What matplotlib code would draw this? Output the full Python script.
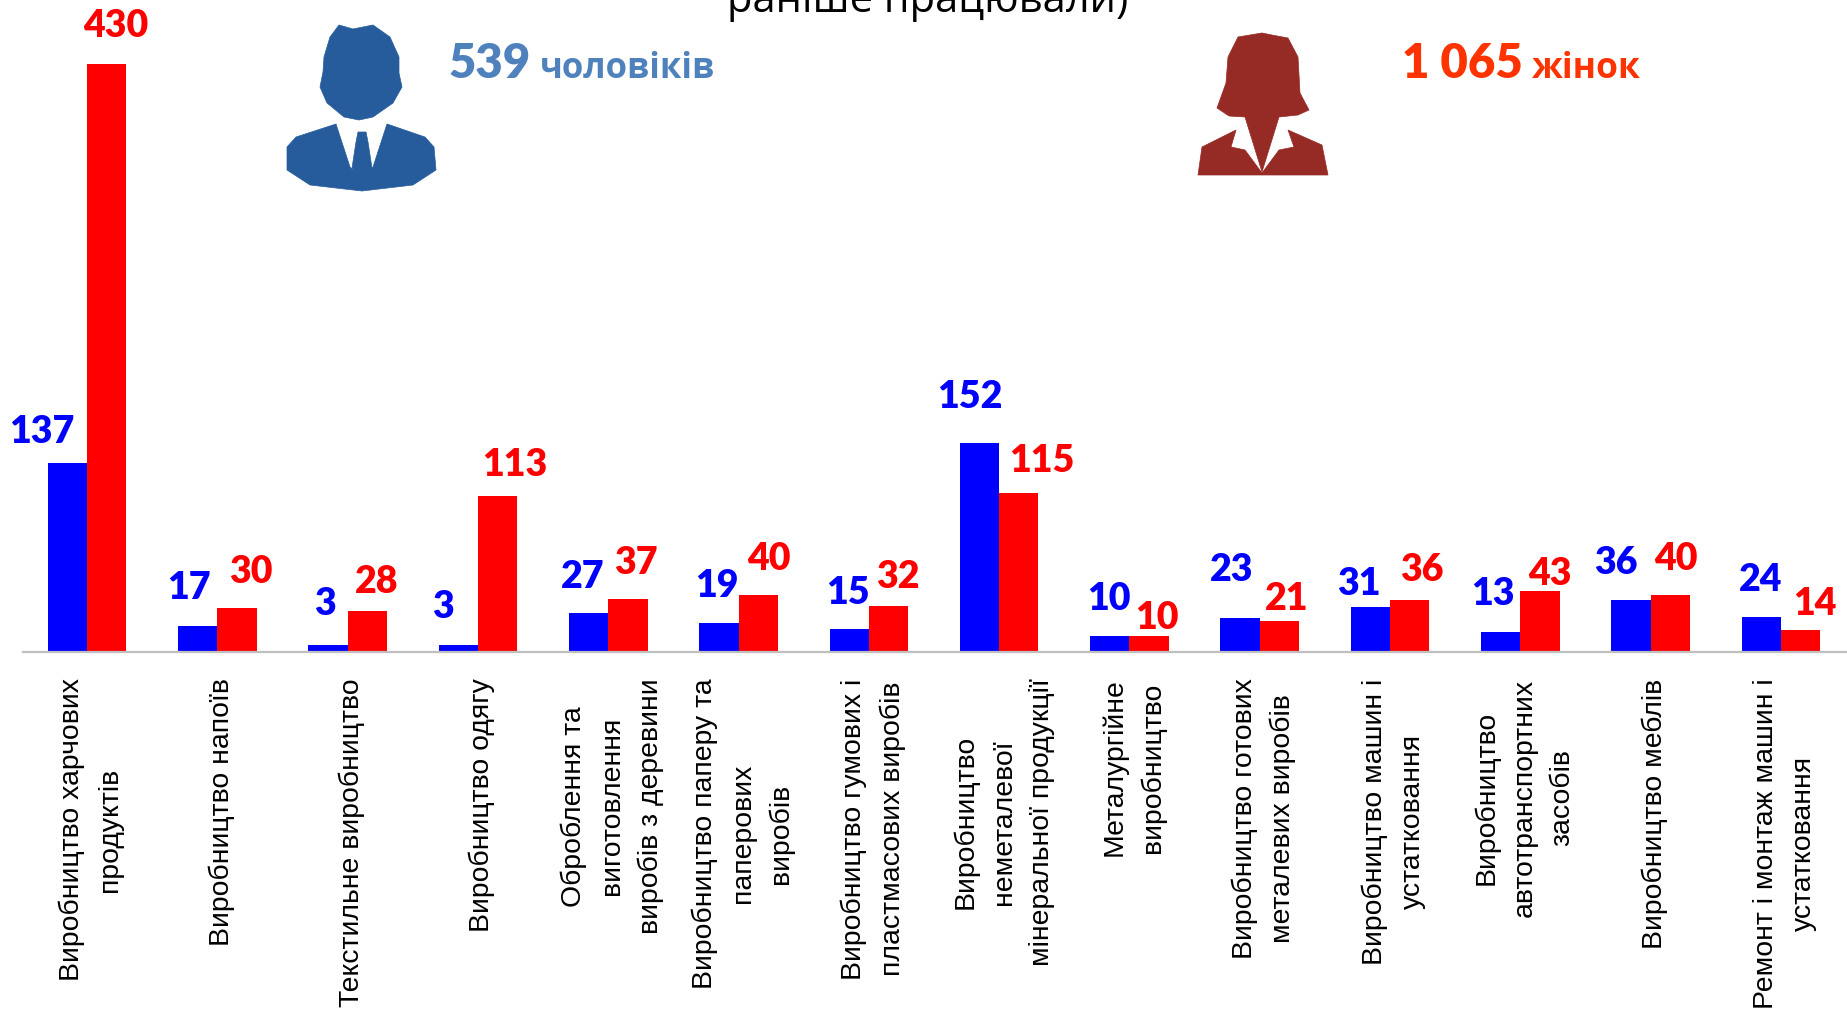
import numpy as np
import matplotlib
matplotlib.use("Agg")
import matplotlib.pyplot as plt
from matplotlib.patches import Polygon
from matplotlib.transforms import ScaledTranslation

W, H = 1847, 1009
categories = [
    "Виробництво харчових\nпродуктів",
    "Виробництво напоїв",
    "Текстильне виробництво",
    "Виробництво одягу",
    "Оброблення та\nвиготовлення\nвиробів з деревини",
    "Виробництво паперу та\nпаперових\nвиробів",
    "Виробництво гумових і\nпластмасових виробів",
    "Виробництво\nнеметалевої\nмінеральної продукції",
    "Металургійне\nвиробництво",
    "Виробництво готових\nметалевих виробів",
    "Виробництво машин і\nустатковання",
    "Виробництво\nавтотранспортних\nзасобів",
    "Виробництво меблів",
    "Ремонт і монтаж машин і\nустатковання",
]
men = [137, 17, 3, 3, 27, 19, 15, 152, 10, 23, 31, 13, 36, 24]
women = [430, 30, 28, 113, 37, 40, 32, 115, 10, 21, 36, 43, 40, 14]

# label offsets from the bar top centre, in pixels
men_dx = [-26, -9, -3, -15, -6, -2, -1, -10, -1, -8, -12, -8, -15, -1]
men_dy = [35, 42, 45, 42, 40, 41, 40, 50, 41, 52, 27, 42, 41, 41]
women_dx = [9, 14, 9, 17, 8, 11, 9, 23, 8, 7, 12, 10, 6, 14]
women_dy = [42, 40, 33, 35, 40, 40, 33, 36, 22, 26, 34, 21, 40, 30]

BLUE, RED = "#0000FF", "#FF0000"
fig = plt.figure(figsize=(W / 100, H / 100), dpi=100)
base_px, left_px = 652, 23
ax = fig.add_axes([left_px / W, 1 - base_px / H, (W - left_px) / W, base_px / H])
ax.patch.set_alpha(0)
step = 130.3
x = np.arange(len(categories))
bw = 39.3 / step
ymin = -2
ax.bar(x - bw / 2, np.array(men) - ymin, bw, bottom=ymin, color=BLUE)
ax.bar(x + bw / 2, np.array(women) - ymin, bw, bottom=ymin, color=RED)
ax.set_xlim((left_px - 87) / step, (W - 87) / step)
ax.set_ylim(ymin, ymin + base_px / 1.36)
ax.yaxis.set_visible(False)
for s in ["top", "left", "right"]:
    ax.spines[s].set_visible(False)
ax.spines["bottom"].set_color("#BFBFBF")
ax.spines["bottom"].set_linewidth(1.6)
ax.set_xticks(x)
labels = ax.set_xticklabels(categories, rotation=90, ha="center", va="top", ma="center",
                            family="Liberation Sans", fontsize=20.4, linespacing=1.6)
ax.tick_params(axis="x", length=0, pad=19)
shift = ScaledTranslation(3 / 72, 0, fig.dpi_scale_trans)
for lab in labels:
    lab.set_transform(lab.get_transform() + shift)

for vals, sign, dxs, dys, col in [(men, -1, men_dx, men_dy, BLUE), (women, 1, women_dx, women_dy, RED)]:
    for i, v in enumerate(vals):
        ax.annotate(str(v), (i + sign * bw / 2, v), xytext=(dxs[i], dys[i] - 4),
                    textcoords="offset pixels", ha="center", va="center",
                    color=col, fontsize=27, fontweight="heavy", family="Lato",
                    annotation_clip=False)

def t(xp, yp, s, **kw):
    fig.text(xp / W, 1 - yp / H, s, va="baseline", **kw)

t(928, 12, "раніше працювали)", ha="center", fontsize=30, family="Open Sans", color="black")
t(449, 78, "539", fontsize=34, fontweight="heavy", family="Lato", color="#4F81BD")
t(540, 78, "чоловіків", fontsize=25, fontweight="bold", family="Open Sans", color="#4F81BD")
t(1402, 78, "1 065", fontsize=34, fontweight="heavy", family="Lato", color="#FF3300")
t(1532, 78, "жінок", fontsize=25.5, fontweight="bold", family="Open Sans", color="#FF3300")

def poly(pts, color):
    fig.add_artist(Polygon([(a / W, 1 - b / H) for a, b in pts], closed=True,
                           facecolor=color, edgecolor=color, linewidth=0.5,
                           transform=fig.transFigure))

MAN, WOMAN = "#265C9B", "#962A25"
poly([(324, 57), (330, 37), (339, 25), (353, 29), (373, 25), (390, 37), (399, 57), (399, 73),
      (402, 87), (393, 103), (373, 117), (359, 120), (344, 117), (327, 103), (320, 87), (323, 72)], MAN)
poly([(287, 147), (296, 137), (336, 124), (350, 167), (361, 178), (373, 167), (387, 124), (425, 137),
      (434, 147), (436, 170), (413, 185), (362, 191), (310, 185), (287, 170)], MAN)
poly([(358, 132), (366, 132), (368, 142), (372, 168), (361, 180), (352, 168), (356, 142)], MAN)

poly([(1262, 33), (1238, 37), (1228, 57), (1226, 83), (1217, 108), (1229, 116), (1245, 117),
      (1262, 172), (1279, 117), (1298, 115), (1309, 110), (1300, 93), (1298, 57), (1288, 38), (1272, 35)], WOMAN)
poly([(1198, 175), (1202, 147), (1236, 130), (1231, 147), (1245, 150), (1262, 173), (1279, 150),
      (1294, 147), (1288, 130), (1322, 145), (1328, 175)], WOMAN)

fig.savefig("out.png", dpi=100)
